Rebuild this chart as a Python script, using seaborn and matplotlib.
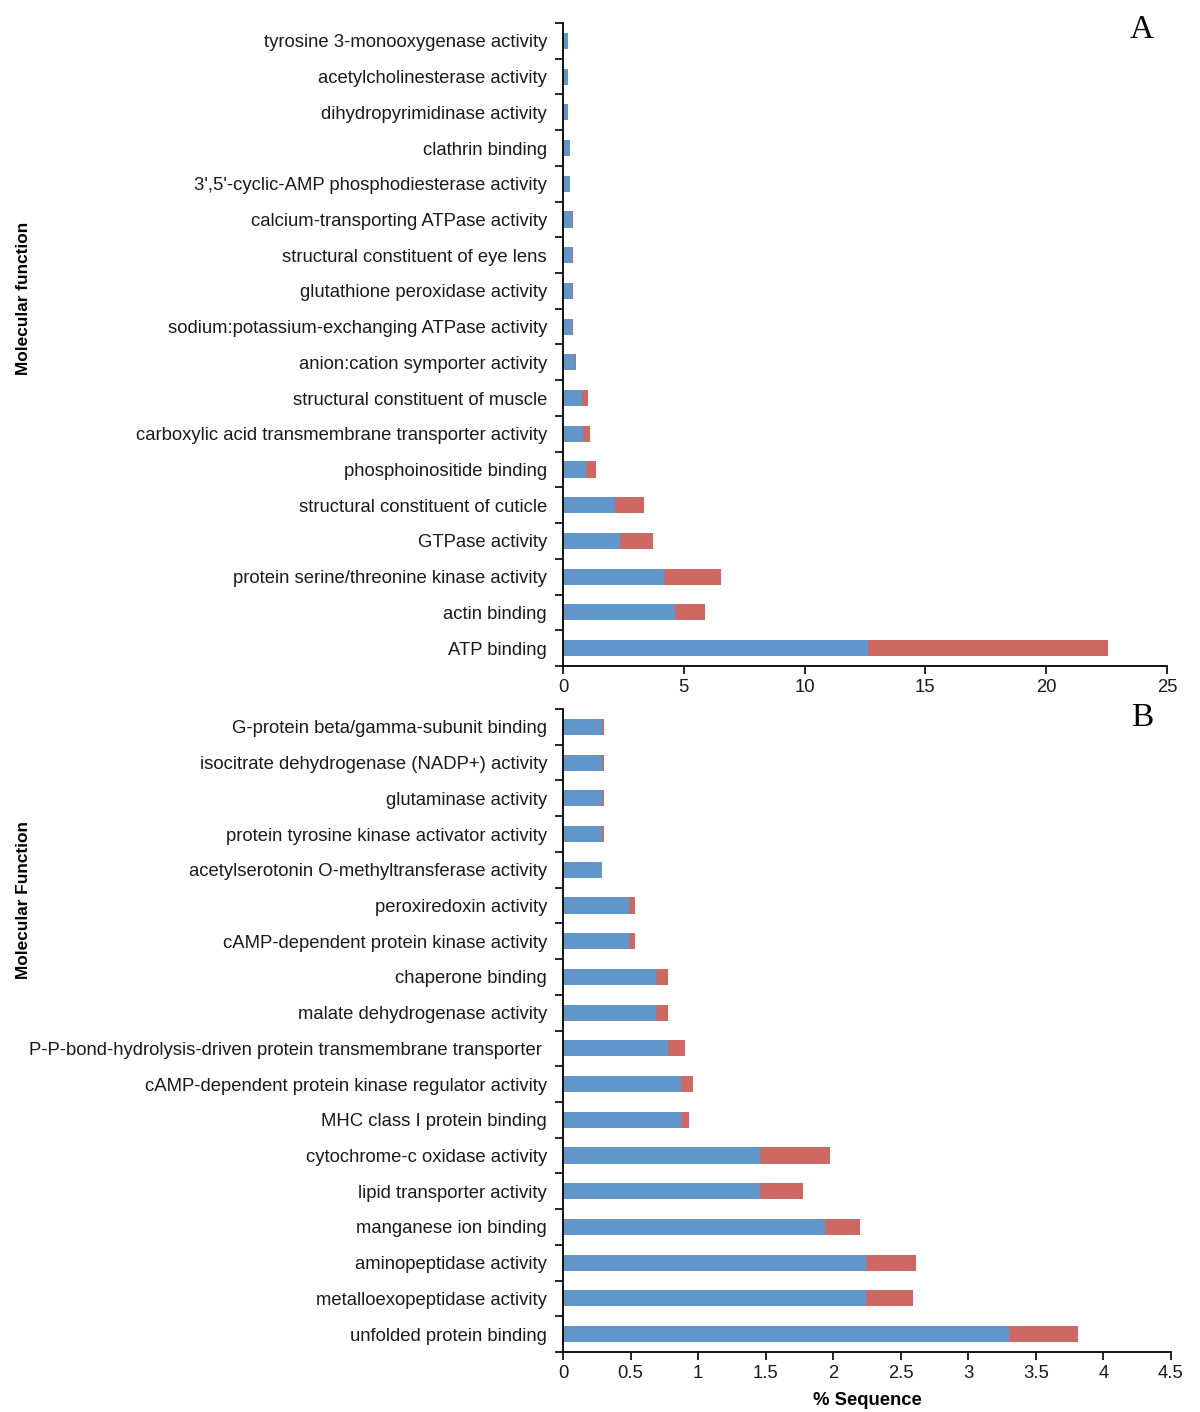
import numpy as np
import pandas as pd
import matplotlib
matplotlib.use('Agg')
import matplotlib.pyplot as plt
from matplotlib.ticker import FuncFormatter, FixedLocator
import seaborn as sns

# Panel A: molecular function terms (top to bottom)
terms_a = [
    'tyrosine 3-monooxygenase activity',
    'acetylcholinesterase activity',
    'dihydropyrimidinase activity',
    'clathrin binding',
    "3',5'-cyclic-AMP phosphodiesterase activity",
    'calcium-transporting ATPase activity',
    'structural constituent of eye lens',
    'glutathione peroxidase activity',
    'sodium:potassium-exchanging ATPase activity',
    'anion:cation symporter activity',
    'structural constituent of muscle',
    'carboxylic acid transmembrane transporter activity',
    'phosphoinositide binding',
    'structural constituent of cuticle',
    'GTPase activity',
    'protein serine/threonine kinase activity',
    'actin binding',
    'ATP binding',
]
blue_a = [0.19, 0.19, 0.19, 0.28, 0.28, 0.37, 0.37, 0.37, 0.37, 0.48,
          0.77, 0.82, 0.97, 2.14, 2.34, 4.19, 4.63, 12.62]
red_a = [0.0, 0.0, 0.0, 0.02, 0.02, 0.04, 0.04, 0.04, 0.04, 0.04,
         0.26, 0.28, 0.40, 1.21, 1.39, 2.36, 1.26, 9.93]

# Panel B
terms_b = [
    'G-protein beta/gamma-subunit binding',
    'isocitrate dehydrogenase (NADP+) activity',
    'glutaminase activity',
    'protein tyrosine kinase activator activity',
    'acetylserotonin O-methyltransferase activity',
    'peroxiredoxin activity',
    'cAMP-dependent protein kinase activity',
    'chaperone binding',
    'malate dehydrogenase activity',
    'P-P-bond-hydrolysis-driven protein transmembrane transporter ',
    'cAMP-dependent protein kinase regulator activity',
    'MHC class I protein binding',
    'cytochrome-c oxidase activity',
    'lipid transporter activity',
    'manganese ion binding',
    'aminopeptidase activity',
    'metalloexopeptidase activity',
    'unfolded protein binding',
]
blue_b = [0.29, 0.29, 0.29, 0.29, 0.29, 0.485, 0.485, 0.685, 0.685, 0.78,
          0.875, 0.875, 1.455, 1.455, 1.94, 2.24, 2.24, 3.30]
red_b = [0.01, 0.01, 0.01, 0.01, 0.0, 0.05, 0.05, 0.095, 0.095, 0.12,
         0.09, 0.06, 0.52, 0.32, 0.26, 0.37, 0.35, 0.51]

BLUE = '#6096CA'
RED = '#CD6862'
FS = 13.3

sns.set_theme(style='white')
plt.rcParams['font.family'] = ['Liberation Sans', 'DejaVu Sans']

fig = plt.figure(figsize=(12, 14.12), dpi=100)
W, H = 1200, 1412


def panel(rect_px, terms, blue, red, xmax, step, ylabel, ylab_y, letter, letter_y):
    l, t, r, b = rect_px
    ax = fig.add_axes([l / W, 1 - b / H, (r - l) / W, (b - t) / H])
    df = pd.DataFrame({'term': terms, 'blue': blue, 'red': red})
    df['total'] = df['blue'] + df['red']
    sns.barplot(data=df, y='term', x='total', color=RED, orient='h',
                width=0.45, saturation=1, ax=ax, linewidth=0)
    sns.barplot(data=df, y='term', x='blue', color=BLUE, orient='h',
                width=0.45, saturation=1, ax=ax, linewidth=0)
    n = len(terms)
    ax.set_xlim(0, xmax)
    ax.set_ylim(n - 0.5, -0.5)
    ax.set_xticks(np.arange(0, xmax + step / 2, step))
    ax.xaxis.set_major_formatter(FuncFormatter(lambda v, p: f'{v:g}'))
    # tick marks sit between the categories
    ax.yaxis.set_minor_locator(FixedLocator(np.arange(-0.5, n, 1)))
    ax.tick_params(axis='y', which='major', length=0, labelsize=FS,
                   pad=11.5, colors='#1a1a1a')
    ax.tick_params(axis='y', which='minor', length=6, width=1.2,
                   direction='out', left=True, color='black')
    ax.tick_params(axis='x', which='major', length=6, width=1.2,
                   direction='out', bottom=True, labelsize=FS,
                   color='black', labelcolor='#1a1a1a')
    for s in ['top', 'right']:
        ax.spines[s].set_visible(False)
    for s in ['left', 'bottom']:
        ax.spines[s].set_color('black')
        ax.spines[s].set_linewidth(1.3)
    ax.set_xlabel('')
    ax.set_ylabel(ylabel, fontsize=12.4, fontweight='bold', color='black')
    ax.yaxis.set_label_coords((31 - l) / (r - l), 1 - (ylab_y - t) / (b - t))
    fig.text(1142 / W, 1 - letter_y / H, letter,
             family=['Liberation Serif', 'DejaVu Serif'], fontsize=24,
             ha='center', va='center', color='black')
    return ax


panel((563, 23, 1167, 666), terms_a, blue_a, red_a, 25, 5,
      'Molecular function', 298, 'A', 30)
ax_b = panel((563, 709, 1171, 1352), terms_b, blue_b, red_b, 4.5, 0.5,
             'Molecular Function', 900, 'B', 718)
ax_b.set_xlabel('% Sequence', fontsize=FS, fontweight='bold', labelpad=7,
                color='black')

fig.savefig('out.png', dpi=100, facecolor='white')
